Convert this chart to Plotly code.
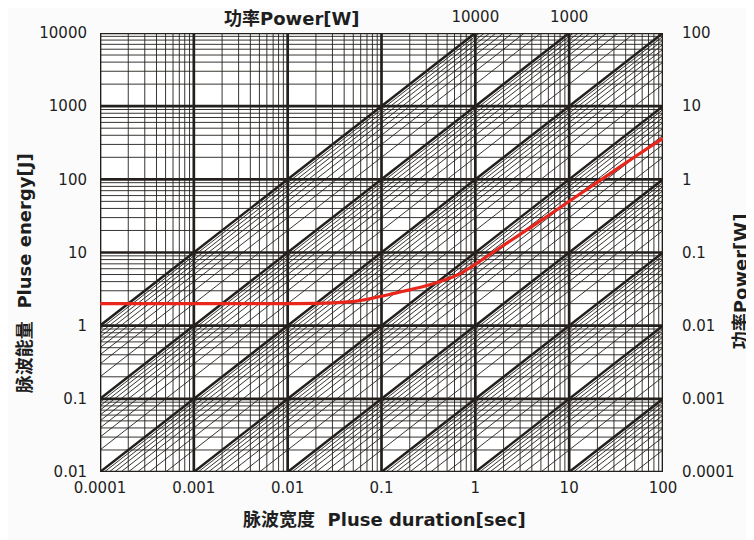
import plotly.graph_objects as go

# ---------------- data ----------------
pulse_duration = [0.0001, 0.001, 0.01, 0.03, 0.059, 0.133, 0.306, 0.69, 1.84, 4.5, 10.2, 21.4, 52, 100]
pulse_energy = [2.0, 2.0, 2.0, 2.05, 2.2, 2.74, 3.53, 5.15, 11.7, 25, 51, 97, 210, 363]

x_ticks = [0.0001, 0.001, 0.01, 0.1, 1, 10, 100]
x_labels = ["0.0001", "0.001", "0.01", "0.1", "1", "10", "100"]
y_ticks = [0.01, 0.1, 1, 10, 100, 1000, 10000]
y_labels = ["0.01", "0.1", "1", "10", "100", "1000", "10000"]
right_power_labels = ["0.0001", "0.001", "0.01", "0.1", "1", "10", "100"]
top_power_ticks = [1, 10]
top_power_labels = ["10000", "1000"]

minor_mult = [2, 3, 4, 5, 6, 7, 8, 9]
x_decades = [0.0001, 0.001, 0.01, 0.1, 1, 10, 100]
y_decades = [0.01, 0.1, 1, 10, 100, 1000, 10000]
power_decades = [0.0001, 0.001, 0.01, 0.1, 1, 10, 100, 1000, 10000]

XMIN, XMAX = x_decades[0], x_decades[-1]
YMIN, YMAX = y_decades[0], y_decades[-1]

LINE = "#231f1c"


def minors(decades):
    out = []
    for d in decades[:-1]:
        for m in minor_mult:
            out.append(d * m)
    return out


def vlines(vals):
    xs, ys = [], []
    for v in vals:
        xs += [v, v, None]
        ys += [YMIN, YMAX, None]
    return xs, ys


def hlines(vals):
    xs, ys = [], []
    for v in vals:
        xs += [XMIN, XMAX, None]
        ys += [v, v, None]
    return xs, ys


def diagonals(powers):
    xs, ys = [], []
    for p in powers:
        t0 = max(XMIN, YMIN / p)
        t1 = min(XMAX, YMAX / p)
        if t0 < t1:
            xs += [t0, t1, None]
            ys += [p * t0, p * t1, None]
    return xs, ys


fig = go.Figure()


def add_lines(xs, ys, width):
    fig.add_trace(go.Scatter(x=xs, y=ys, mode="lines",
                             line=dict(color=LINE, width=width),
                             hoverinfo="skip", showlegend=False))


# thin grid
vx, vy = vlines(minors(x_decades))
hx, hy = hlines(minors(y_decades))
add_lines(vx + hx, vy + hy, 0.9)
# thin diagonals
dx, dy = diagonals(minors(power_decades))
add_lines(dx, dy, 0.9)
# thick grid
vx, vy = vlines(x_decades)
hx, hy = hlines(y_decades)
add_lines(vx + hx, vy + hy, 2.7)
# thick diagonals
dx, dy = diagonals(power_decades)
add_lines(dx, dy, 2.5)

# red curve
fig.add_trace(go.Scatter(x=pulse_duration, y=pulse_energy, mode="lines",
                         line=dict(color="#e8261c", width=3.2, shape="spline", smoothing=0.7),
                         hoverinfo="skip", showlegend=False))

# dummy trace for secondary axes
fig.add_trace(go.Scatter(x=[1], y=[1], xaxis="x2", yaxis="y2", mode="markers",
                         marker=dict(opacity=0), hoverinfo="skip", showlegend=False))

FONT = "DejaVu Sans, Noto Sans CJK SC"
tick_font = dict(family=FONT, size=15, color="#1e1e1e")
title_font = dict(family=FONT, size=18, color="#1e1e1e", weight="bold")

# page has an 8px body margin, so the figure is drawn 8px smaller and offset
fig.update_layout(
    width=746, height=532,
    margin=dict(l=92, r=91, t=25, b=68, autoexpand=False),
    paper_bgcolor="#fbfbfb", plot_bgcolor="#ffffff",
    xaxis=dict(type="log", range=[-4, 2], showgrid=False, zeroline=False, showline=False,
               tickvals=x_ticks, ticktext=x_labels, ticks="outside", ticklen=2,
               tickcolor="rgba(0,0,0,0)", tickfont=tick_font, automargin=False),
    yaxis=dict(type="log", range=[-2, 4], showgrid=False, zeroline=False, showline=False,
               tickvals=y_ticks, ticktext=y_labels, ticks="outside", ticklen=9,
               tickcolor="rgba(0,0,0,0)", tickfont=tick_font, automargin=False),
    xaxis2=dict(type="log", range=[-4, 2], overlaying="x", side="top", showgrid=False,
                zeroline=False, showline=False, tickvals=top_power_ticks,
                ticktext=top_power_labels, ticks="outside", ticklen=4,
                tickcolor="rgba(0,0,0,0)", tickfont=tick_font, anchor="y2",
                automargin=False),
    yaxis2=dict(type="log", range=[-2, 4], overlaying="y", side="right", showgrid=False,
                zeroline=False, showline=False, tickvals=y_ticks,
                ticktext=right_power_labels, ticks="outside", ticklen=15,
                tickcolor="rgba(0,0,0,0)", tickfont=tick_font, anchor="x2",
                automargin=False),
    annotations=[
        dict(text="功率Power[W]", x=0.341, y=1.034, xref="paper", yref="paper",
             showarrow=False, font=title_font, xanchor="center", yanchor="middle"),
        dict(text="脉波能量  Pluse energy[J]", x=-0.135, y=0.453, xref="paper", yref="paper",
             showarrow=False, font=title_font, textangle=-90,
             xanchor="center", yanchor="middle"),
        dict(text="功率Power[W]", x=1.137, y=0.435, xref="paper", yref="paper",
             showarrow=False, font=title_font, textangle=-90,
             xanchor="center", yanchor="middle"),
        dict(text="脉波宽度  Pluse duration[sec]", x=0.506, y=-0.109, xref="paper",
             yref="paper", showarrow=False, font=title_font,
             xanchor="center", yanchor="middle"),
    ],
)

fig.write_html("out.html")
